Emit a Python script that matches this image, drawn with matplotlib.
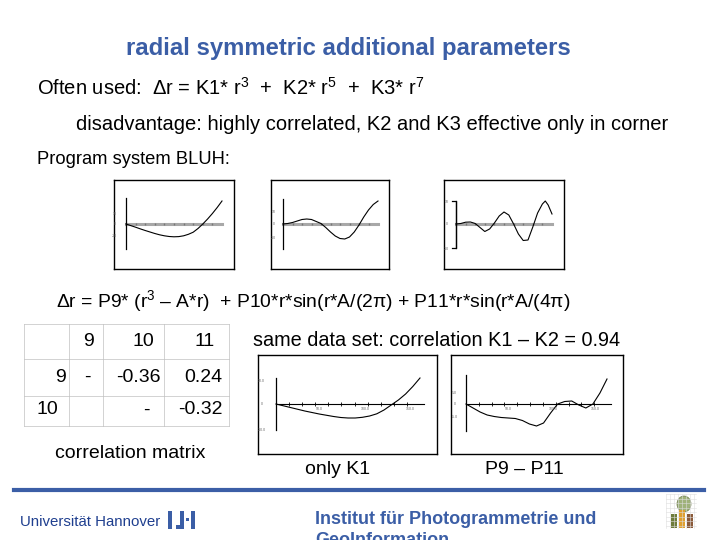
import matplotlib.pyplot as plt
import numpy as np
from matplotlib.patches import Rectangle, Ellipse

plt.rcParams['font.family'] = ['Liberation Sans', 'DejaVu Sans']
plt.rcParams['mathtext.fontset'] = 'custom'
plt.rcParams['mathtext.rm'] = 'Liberation Sans'
plt.rcParams['mathtext.it'] = 'Liberation Sans'

W, H = 720, 540
BLUE = '#3b5ea6'
FS = 14

# normalised radius along each small plot
t_k1 = [0, .05, .1, .15, .2, .25, .3, .35, .4, .45, .5, .55, .6, .65, .7, .75, .8, .85, .9, .95, 1]
y_k1 = [0, -1.6, -3.2, -4.9, -6.5, -8, -9.5, -10.8, -11.8, -12.5, -12.8, -12.6, -11.8, -10.3,
        -8.2, -4.5, 0, 5, 10.5, 16.5, 23]
t_p10 = [0, .05, .1, .15, .2, .25, .3, .35, .4, .45, .5, .55, .6, .65, .7, .75, .8, .85, .9, .95, 1]
y_p10 = [0, .5, 1.5, 3, 4.5, 5, 4.5, 2.5, .5, -3.5, -8, -12, -14.5, -15, -13, -8, -1, 7, 14, 19.5, 23]
t_p11 = [0, .05, .1, .15, .2, .25, .3, .35, .4, .45, .5, .55, .6, .65, .7, .75, .8, .85, .9, .93, .96, 1]
y_p11 = [0, .5, 1.8, 2, .5, -3.5, -7.5, -5, 1, 8, 12, 9, 0, -10, -16.5, -16, -3, 11, 20, 23, 19, 10]
t_only = [0, .1, .2, .3, .4, .45, .5, .55, .6, .65, .7, .75, .8, .85, .9, .95, 1]
y_only = [0, -3.5, -7, -10, -12.5, -13.5, -14, -14, -13.3, -12, -9.8, -6, -1, 4, 10, 17.5, 26]
t_all = [0, .05, .1, .15, .2, .25, .3, .35, .4, .45, .5, .55, .6, .65, .7, .75, .8, .85, .9, .95, 1]
y_all = [0, -4, -8, -11, -12.5, -13.5, -14, -14.5, -16.5, -20, -22, -19, -9, 0, 2.5, 3, -1, -4, 0, 11, 25]

col_heads = ['9', '10', '11']
row_heads = ['9', '10']
corr = [['-', '-0.36', '0.24'], ['', '-', '-0.32']]


def fx(x):
    return x / W


def fy(y):
    return 1 - y / H


fig = plt.figure(figsize=(7.2, 5.4), dpi=100)


def panel(box, origin, span, t, y, ytop, ybot, gray_axis):
    x0, y0, x1, y1 = box
    ox, oy = origin
    ax = fig.add_axes([fx(x0), fy(y1), (x1 - x0) / W, (y1 - y0) / H])
    ax.set_xlim((x0 - ox) / span, (x1 - ox) / span)
    ax.set_ylim(oy - y1, oy - y0)
    ax.set_xticks([])
    ax.set_yticks([])
    for s in ax.spines.values():
        s.set_linewidth(1.0)
    if gray_axis:
        ax.plot([0, 1], [0, 0], color='#a8a8a8', lw=2.2, zorder=1)
        ax.plot(np.arange(1, 10) / 10, np.zeros(9), ls='none', marker='|', ms=2, color='#777', zorder=2)
    else:
        ax.plot([0, 1.03], [0, 0], color='black', lw=0.8, zorder=1)
        ax.plot(np.arange(1, 11) / 11, np.zeros(10), ls='none', marker='|', ms=2.5, color='black', mew=0.6)
    ax.plot([0, 0], [ybot, ytop], color='black', lw=0.9)
    ax.plot(t, y, color='black', lw=0.8, zorder=3)
    return ax


a1 = panel((114, 180, 234, 269), (126, 224), 96, t_k1, y_k1, 26, -25, True)
a2 = panel((271, 180, 389, 269), (283, 224), 95, t_p10, y_p10, 25, -25, True)
a3 = panel((444, 180, 564, 269), (456, 224), 96, t_p11, y_p11, 23, -24, True)
a3.plot([-0.04, 0, 0, -0.04], [23, 23, -24, -24], color='black', lw=0.9)
a4 = panel((258, 355, 437, 454), (276, 404), 144, t_only, y_only, 26, -26, False)
a5 = panel((451, 355, 623, 454), (466, 404), 141, t_all, y_all, 29, -27, False)

# tiny tick labels of the small plots
for ax, labs in [(a1, [(-0.12, 10, '10'), (-0.12, 0, '0'), (-0.12, -12, '-10')]),
                 (a2, [(-0.1, 12, '10'), (-0.1, 0, '0'), (-0.1, -14, '-10')]),
                 (a3, [(-0.1, 22, '10'), (-0.1, 0, '0'), (-0.1, -25, '-10')]),
                 (a4, [(-0.1, 23, '10.0'), (-0.1, 0, '0'), (-0.1, -26, '-10.0'),
                       (0.3, -5, '50.0'), (0.62, -5, '100.0'), (0.93, -5, '150.0')]),
                 (a5, [(-0.08, 11, '5.0'), (-0.08, 0, '0'), (-0.08, -13, '-5.0'),
                       (0.3, -5, '50.0'), (0.62, -5, '100.0'), (0.92, -5, '150.0')])]:
    for tx, ty, s in labs:
        ax.text(tx, ty, s, fontsize=2.5, color='#666', ha='center', va='center')

# slide texts
fig.text(fx(348), fy(49), 'radial symmetric additional parameters', color=BLUE,
         fontsize=17.2, fontweight='bold', ha='center', va='center')
fig.text(fx(37), fy(88), r'Often used:  $\Delta$r = K1* r$^{3}$  +  K2* r$^{5}$  +  K3* r$^{7}$',
         fontsize=14.5, ha='left', va='center')
fig.text(fx(76), fy(124), 'disadvantage: highly correlated, K2 and K3 effective only in corner',
         fontsize=14.5, ha='left', va='center')
fig.text(fx(37), fy(160), 'Program system BLUH:', fontsize=13.2, ha='left', va='center')
fig.text(fx(56), fy(301),
         r'$\Delta$r = P9* (r$^{3}$ – A*r)  + P10*r*sin(r*A/(2$\pi$) + P11*r*sin(r*A/(4$\pi$)',
         fontsize=13.9, ha='left', va='center')
fig.text(fx(253), fy(340), 'same data set: correlation K1 – K2 = 0.94', fontsize=FS + 0.3,
         ha='left', va='center')
fig.text(fx(338), fy(470), 'only K1', fontsize=FS, ha='center', va='center')
fig.text(fx(524), fy(470), 'P9 – P11', fontsize=FS, ha='center', va='center')
fig.text(fx(130), fy(454), 'correlation matrix', fontsize=FS, ha='center', va='center')

# correlation table
vx = [24, 69, 103, 164, 229]
hy = [324, 359, 396, 426]
for x in vx:
    fig.add_artist(plt.Line2D([fx(x), fx(x)], [fy(hy[0]), fy(hy[-1])], color='#c0c0c0', lw=0.5))
for y in hy:
    fig.add_artist(plt.Line2D([fx(vx[0]), fx(vx[-1])], [fy(y), fy(y)], color='#c0c0c0', lw=0.5))
row_y = [377, 410]
head_right = [94, 154, 215]
cell_right = [[91, 161, 222], [0, 150, 223]]
row_right = [66, 58]
for j, h in enumerate(col_heads):
    fig.text(fx(head_right[j]), fy(341), h, fontsize=FS, ha='right', va='center')
for i, r in enumerate(row_heads):
    fig.text(fx(row_right[i]), fy(row_y[i]), r, fontsize=FS, ha='right', va='center')
    for j, v in enumerate(corr[i]):
        fig.text(fx(cell_right[i][j]), fy(row_y[i]), v, fontsize=FS, ha='right', va='center')

# footer
fig.add_artist(plt.Line2D([fx(14), fx(704)], [fy(490), fy(490)], color=BLUE, lw=3))
fig.text(fx(20), fy(522), 'Universität Hannover', color='#1f3f8f', fontsize=10.8,
         ha='left', va='center')
for x0, y0, w, h in [(168, 511, 4, 18), (180, 511, 4, 18), (176, 525, 8, 4), (186, 518, 3, 3),
                     (191, 511, 4, 18)]:
    fig.add_artist(Rectangle((fx(x0), fy(y0 + h)), w / W, h / H, color=BLUE, lw=0))
fig.text(fx(315), fy(519), 'Institut für Photogrammetrie und', color=BLUE, fontsize=13,
         fontweight='bold', ha='left', va='center')
fig.text(fx(315), fy(532), 'GeoInformation', color=BLUE, fontsize=13,
         fontweight='bold', ha='left', va='top')
for k in range(8):
    fig.add_artist(plt.Line2D([fx(666 + 4 * k), fx(666 + 4 * k)], [fy(494), fy(528)], color='#ddd', lw=0.4))
    fig.add_artist(plt.Line2D([fx(666), fx(696)], [fy(494 + 4.5 * k), fy(494 + 4.5 * k)], color='#ddd', lw=0.4))
fig.add_artist(Ellipse((fx(684), fy(504)), 14 / W, 16 / H, facecolor='#9fb27a', edgecolor='#6b7a4a', lw=0.5))
fig.add_artist(Rectangle((fx(671), fy(528)), 6 / W, 14 / H, color='#6d7b3a', lw=0))
fig.add_artist(Rectangle((fx(679), fy(528)), 6 / W, 18 / H, color='#e0a030', lw=0))
fig.add_artist(Rectangle((fx(687), fy(528)), 6 / W, 14 / H, color='#8a5a3a', lw=0))

fig.savefig('out.png', dpi=100)
